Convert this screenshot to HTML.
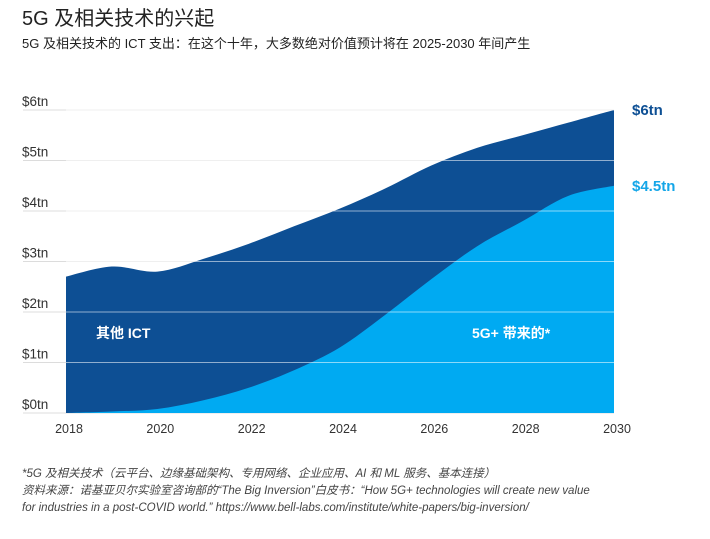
<!DOCTYPE html>
<html><head><meta charset="utf-8"><style>
body{margin:0;background:#fff;width:710px;height:539px;overflow:hidden;font-family:"Liberation Sans","Noto Sans CJK SC",sans-serif;}
.t{position:absolute;left:22px;top:2px;font-size:20px;color:#222;}
.s{position:absolute;left:22px;top:33px;font-size:13px;color:#222;}
.f{position:absolute;left:22px;top:466px;font-size:11.5px;color:#444;font-style:italic;line-height:17px;}
svg{position:absolute;left:0;top:0}
</style></head><body>
<div class="t">5G 及相关技术的兴起</div>
<div class="s">5G 及相关技术的 ICT 支出：在这个十年，大多数绝对价值预计将在 2025-2030 年间产生</div>
<svg id="c" width="710" height="539"></svg>
<div class="f">*5G 及相关技术（云平台、边缘基础架构、专用网络、企业应用、AI 和 ML 服务、基本连接）<br>资料来源：诺基亚贝尔实验室咨询部的“The Big Inversion”白皮书：“How 5G+ technologies will create new value<br>for industries in a post-COVID world.” https://www.bell-labs.com/institute/white-papers/big-inversion/</div>
<script>
const years=[2018,2019,2020,2021,2022,2023,2024,2025,2026,2027,2028,2029,2030];
const totalVals=[2.7,2.9,2.8,3.05,3.35,3.7,4.05,4.45,4.9,5.25,5.5,5.75,6.0];
const fiveGVals=[0.0,0.03,0.08,0.25,0.5,0.85,1.3,1.95,2.65,3.3,3.8,4.3,4.5];
const yTicks=[0,1,2,3,4,5,6];
const xTicks=[2018,2020,2022,2024,2026,2028,2030];
const NS='http://www.w3.org/2000/svg',svg=document.getElementById('c');
const x=v=>66+(v-2018)/12*548, y=v=>413-v*50.5;
function el(t,a){const e=document.createElementNS(NS,t);for(const k in a)e.setAttribute(k,a[k]);svg.appendChild(e);return e;}
function smooth(pts){let d='M'+pts[0][0]+','+pts[0][1];for(let i=0;i<pts.length-1;i++){const p0=pts[Math.max(i-1,0)],p1=pts[i],p2=pts[i+1],p3=pts[Math.min(i+2,pts.length-1)];d+=' C'+(p1[0]+(p2[0]-p0[0])/6)+','+(p1[1]+(p2[1]-p0[1])/6)+' '+(p2[0]-(p3[0]-p1[0])/6)+','+(p2[1]-(p3[1]-p1[1])/6)+' '+p2[0]+','+p2[1];}return d;}
function area(vals,fill,name){const pts=years.map((yr,i)=>[x(yr),y(vals[i])]);const a=el('path',{d:smooth(pts)+' L'+x(2030)+','+y(0)+' L'+x(2018)+','+y(0)+'Z',fill:fill});}
yTicks.forEach(v=>{const l=el('line',{x1:23,x2:614,y1:y(v),y2:y(v),stroke:'#dcdcdc','stroke-width':1});
const t=el('text',{x:22,y:y(v)-4,'font-size':13.5,fill:'#333'});t.textContent='$'+v+'tn';});
area(totalVals,'#0d4f94','area-other-ict');
area(fiveGVals,'#00aaf2','area-5g');
yTicks.slice(1).forEach(v=>{const l=el('line',{x1:66,x2:614,y1:y(v),y2:y(v),stroke:'#fff','stroke-opacity':0.55,'stroke-width':1});});
xTicks.forEach(v=>{const t=el('text',{x:x(v)+3,y:433,'font-size':12.5,fill:'#333','text-anchor':'middle'});t.textContent=v;});
const l1=el('text',{x:96,y:338,'font-size':14,'font-weight':'bold',fill:'#fff'});l1.textContent='其他 ICT';
const l2=el('text',{x:472,y:338,'font-size':14,'font-weight':'bold',fill:'#fff'});l2.textContent='5G+ 带来的*';
const e1=el('text',{x:632,y:y(totalVals[12])+5,'font-size':15,'font-weight':'bold',fill:'#0d4f94'});e1.textContent='$6tn';
const e2=el('text',{x:632,y:y(fiveGVals[12])+5,'font-size':15,'font-weight':'bold',fill:'#14a6e8'});e2.textContent='$4.5tn';
</script>
</body></html>
